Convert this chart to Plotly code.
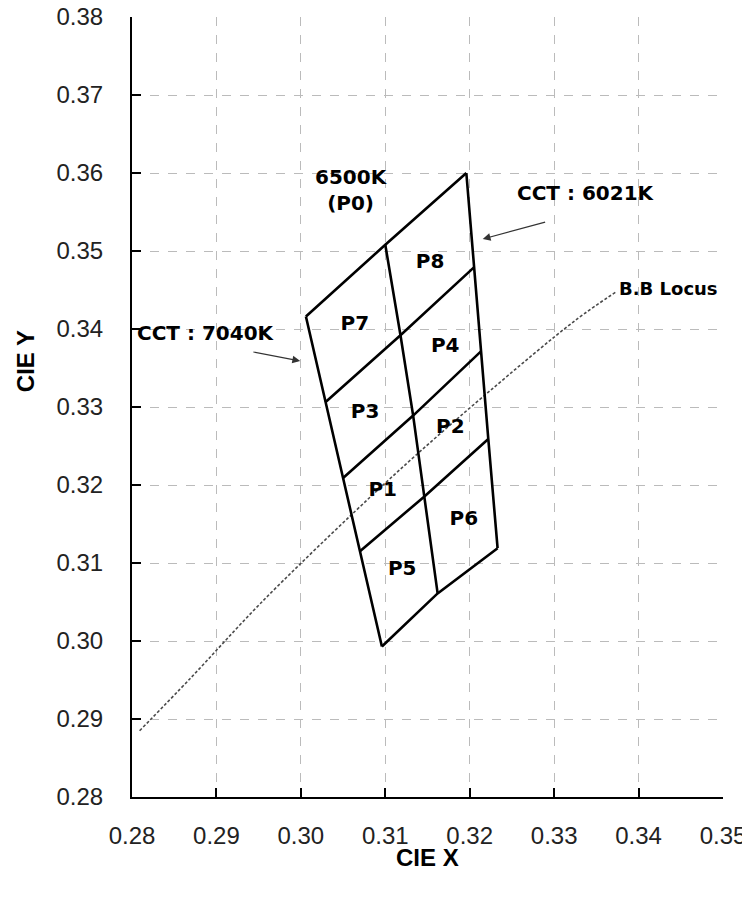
import plotly.graph_objects as go

# ---- data ----
# bin grid nodes (top row first): left edge, middle line, right edge
left_x = [0.3006, 0.3029, 0.3050, 0.3070, 0.3096]
left_y = [0.3416, 0.3306, 0.3209, 0.3115, 0.2993]
mid_x = [0.3100, 0.3118, 0.3133, 0.3146, 0.3162]
mid_y = [0.3508, 0.3392, 0.3289, 0.3185, 0.3061]
right_x = [0.3196, 0.3205, 0.3213, 0.3222, 0.3233]
right_y = [0.3600, 0.3479, 0.3371, 0.3259, 0.3119]

# black-body locus
locus_x = [0.2809, 0.2869, 0.2952, 0.3064, 0.3135, 0.3221, 0.3325, 0.3374]
locus_y = [0.2885, 0.2952, 0.3048, 0.3166, 0.3237, 0.3318, 0.3411, 0.3448]

# bin labels
cell_labels = ["P1", "P2", "P3", "P4", "P5", "P6", "P7", "P8"]
cell_x = [0.3097, 0.3177, 0.3076, 0.3171, 0.3120, 0.3193, 0.3064, 0.3153]
cell_y = [0.3192, 0.3273, 0.3292, 0.3377, 0.3091, 0.3155, 0.3405, 0.3484]

x_ticks = [0.28, 0.29, 0.30, 0.31, 0.32, 0.33, 0.34, 0.35]
y_ticks = [0.28, 0.29, 0.30, 0.31, 0.32, 0.33, 0.34, 0.35, 0.36, 0.37, 0.38]

# ---- build line segments from the nodes ----
seg_x, seg_y = [], []
for xs, ys in [(left_x, left_y), (mid_x, mid_y), (right_x, right_y)]:
    seg_x += xs + [None]
    seg_y += ys + [None]
for i in range(len(left_x)):
    seg_x += [left_x[i], mid_x[i], right_x[i], None]
    seg_y += [left_y[i], mid_y[i], right_y[i], None]

fig = go.Figure()
fig.add_trace(go.Scatter(x=locus_x, y=locus_y, mode="lines",
                         line=dict(color="#4a4a4a", width=1.6, dash="3px,2px", shape="spline"),
                         hoverinfo="skip", showlegend=False))
fig.add_trace(go.Scatter(x=seg_x, y=seg_y, mode="lines",
                         line=dict(color="black", width=2.6),
                         hoverinfo="skip", showlegend=False))

lab_font = dict(family="DejaVu Sans", size=20, color="black", weight="bold")
fig.add_trace(go.Scatter(x=cell_x, y=cell_y, mode="text", text=cell_labels,
                         textfont=lab_font, hoverinfo="skip", showlegend=False))

ann = []
ann.append(dict(x=0.30604, y=0.3578, text="6500K<br>(P0)", showarrow=False,
                font=lab_font, xref="x", yref="y"))
ann.append(dict(x=0.3338, y=0.3575, text="CCT : 6021K", showarrow=False,
                font=lab_font, xref="x", yref="y"))
ann.append(dict(x=0.28877, y=0.33945, text="CCT : 7040K", showarrow=False,
                font=lab_font, xref="x", yref="y"))
ann.append(dict(x=0.33739, y=0.34513, text="B.B Locus", showarrow=False, xanchor="left",
                font=dict(family="DejaVu Sans", size=18, color="black", weight="bold"),
                xref="x", yref="y"))
# arrows
ann.append(dict(x=0.32154, y=0.35154, ax=0.32911, ay=0.35376, xref="x", yref="y",
                axref="x", ayref="y", text="", showarrow=True, arrowhead=2,
                arrowsize=1.3, arrowwidth=1.2, arrowcolor="#333333"))
ann.append(dict(x=0.29992, y=0.3359, ax=0.2942, ay=0.33709, xref="x", yref="y",
                axref="x", ayref="y", text="", showarrow=True, arrowhead=2,
                arrowsize=1.3, arrowwidth=1.2, arrowcolor="#333333"))
# axis titles
ann.append(dict(x=-0.179, y=0.559, xref="paper", yref="paper", text="CIE Y", textangle=-90,
                xanchor="center", yanchor="middle",
                showarrow=False, font=dict(family="Liberation Sans", size=24, color="black", weight="bold")))
ann.append(dict(x=0.5, y=-0.078, xref="paper", yref="paper", text="CIE X",
                xanchor="center", yanchor="middle",
                showarrow=False, font=dict(family="Liberation Sans", size=24, color="black", weight="bold")))

tick_font = dict(family="Liberation Sans", size=24, color="#222222")
fig.update_layout(
    width=742, height=892,
    margin=dict(l=124, r=27, t=9, b=103),
    paper_bgcolor="white", plot_bgcolor="white",
    annotations=ann,
    xaxis=dict(range=[0.28, 0.35], tickvals=x_ticks, ticktext=[f"{v:.2f}" for v in x_ticks],
               showgrid=True, gridcolor="#bbbbbb", griddash="dash", gridwidth=1,
               showline=True, linecolor="black", linewidth=2,
               ticks="inside", ticklen=9, tickwidth=2, tickcolor="black", automargin=False,
               ticklabeloverflow="allow",
               tickfont=tick_font, ticklabelstandoff=16, zeroline=False),
    yaxis=dict(range=[0.28, 0.38], tickvals=y_ticks, ticktext=[f"{v:.2f}" for v in y_ticks],
               showgrid=True, gridcolor="#bbbbbb", griddash="dash", gridwidth=1,
               showline=True, linecolor="black", linewidth=2,
               ticks="inside", ticklen=9, tickwidth=2, tickcolor="black", automargin=False,
               ticklabeloverflow="allow",
               tickfont=tick_font, ticklabelstandoff=22, zeroline=False),
)
fig.write_html("out.html")
